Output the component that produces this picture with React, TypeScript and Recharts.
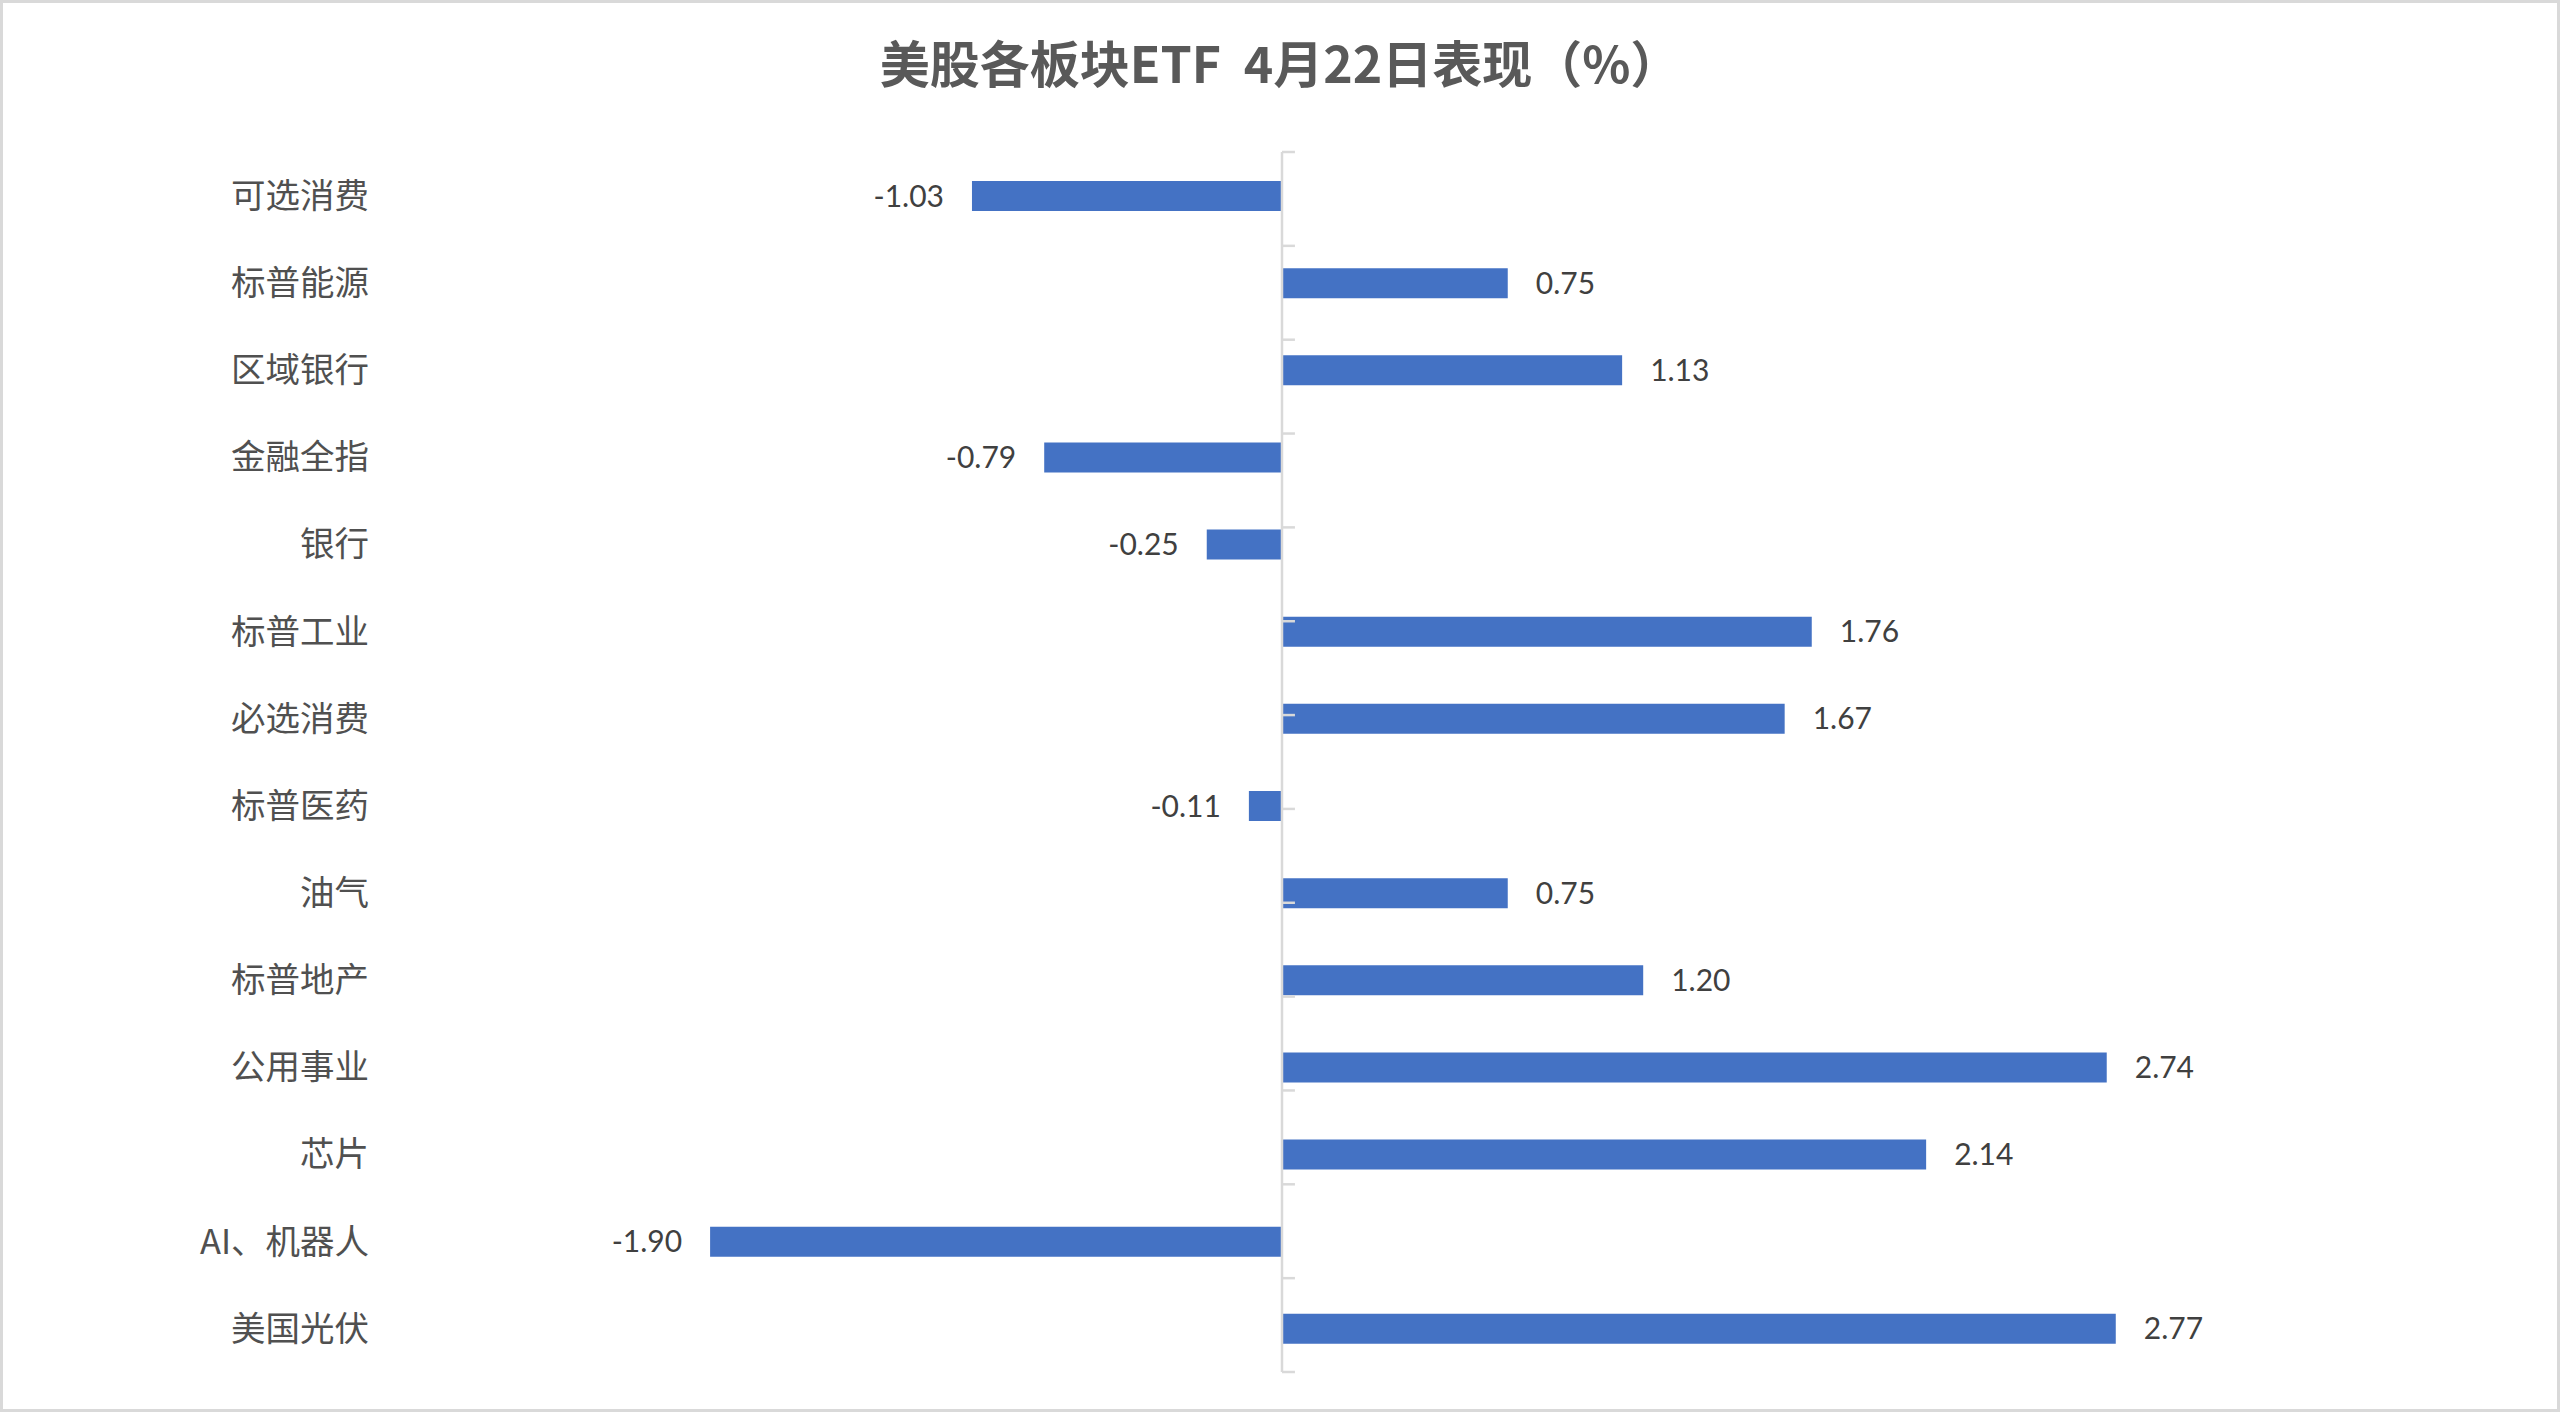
import React from 'react';
import { BarChart, Bar, XAxis, YAxis, ReferenceLine, LabelList } from 'recharts';

const sectors = ['可选消费', '标普能源', '区域银行', '金融全指', '银行', '标普工业', '必选消费', '标普医药', '油气', '标普地产', '公用事业', '芯片', 'AI、机器人', '美国光伏'];
const changes = [-1.03, 0.75, 1.13, -0.79, -0.25, 1.76, 1.67, -0.11, 0.75, 1.2, 2.74, 2.14, -1.9, 2.77];
const xDomain = [-3, 3];

const data = sectors.map((name, i) => ({ name, value: changes[i] }));
// tick marks on the zero line, every half category
const tickSteps = Array.from({ length: sectors.length * 2 + 1 }, (_, i) => i);

const BAR = '#4472C4';
const GRID = '#d9d9d9';
const CJK = '"Noto Sans CJK SC", "Noto Sans", sans-serif';
const NUM = 'Lato, "Open Sans", sans-serif';

const ValueLabel = (props: any) => {
  const { x, y, width, height, value } = props;
  const left = Math.min(x, x + width);
  const right = Math.max(x, x + width);
  const neg = value < 0;
  return (
    <text
      x={neg ? left - 28 : right + 28}
      y={y + height / 2}
      dy="0.35em"
      textAnchor={neg ? 'end' : 'start'}
      fill="#404040"
      fontSize={30}
      fontFamily={NUM}
    >
      {Number(value).toFixed(2)}
    </text>
  );
};

export default function App() {
  return (
    <div
      style={{
        position: 'absolute',
        left: 0,
        top: 0,
        width: 2560,
        height: 1412,
        boxSizing: 'border-box',
        border: `3px solid ${GRID}`,
        background: '#fff',
      }}
    >
      <div
        style={{
          position: 'absolute',
          left: 0,
          right: 0,
          top: 25,
          textAlign: 'center',
          fontFamily: CJK,
          fontWeight: 'bold',
          fontSize: 50,
          color: '#595959',
          lineHeight: '66px',
          whiteSpace: 'pre',
        }}
      >
        {'美股各板块ETF  4月22日表现（%）'}
      </div>
      <div style={{ position: 'absolute', left: -3, top: -3 }}>
        <BarChart
          width={2560}
          height={1412}
          layout="vertical"
          data={data}
          margin={{ top: 152, right: 375, bottom: 40, left: 0 }}
          barSize={30}
        >
          <XAxis type="number" domain={xDomain} hide allowDataOverflow />
          <YAxis
            type="category"
            dataKey="name"
            width={379}
            interval={0}
            axisLine={false}
            tickLine={false}
            tickMargin={4}
            tick={{ fill: '#505050', fontSize: 34.5, fontFamily: CJK }}
          />
          <YAxis yAxisId="t" type="number" domain={[0, tickSteps.length - 1]} hide />
          <Bar dataKey="value" fill={BAR} isAnimationActive={false}>
            <LabelList dataKey="value" content={ValueLabel} />
          </Bar>
          <ReferenceLine x={0} stroke={GRID} strokeWidth={2.5} />
          {tickSteps.map((s) => (
            <ReferenceLine
              key={s}
              yAxisId="t"
              segment={[{ x: 0, y: s }, { x: 0.043, y: s }]}
              stroke={GRID}
              strokeWidth={2.5}
            />
          ))}
        </BarChart>
      </div>
    </div>
  );
}
